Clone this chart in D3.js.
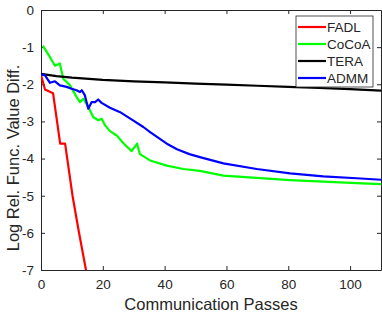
<!DOCTYPE html>
<html>
<head>
<meta charset="utf-8">
<script src="https://cdn.jsdelivr.net/npm/d3@7"></script>
<style>
  body { margin: 0; background: #fff; }
  text { font-family: "Liberation Sans", Arial, sans-serif; fill: #262626; }
</style>
</head>
<body>
<div id="chart"></div>
<script>
var xTicks = [0, 20, 40, 60, 80, 100];
var yTicks = [-7, -6, -5, -4, -3, -2, -1, 0];

var fadlX = [0, 1.3, 3.9, 6.2, 7.8, 10.2, 12.2, 15];
var fadlY = [-1.75, -2.14, -2.24, -3.6, -3.6, -5.0, -5.95, -7.2];

var cocoaX = [0.6, 2.9, 4.5, 6.1, 7.2, 9.4, 11.5, 12.6, 13.7, 15.3, 16.9, 18.5, 19.6, 20.7, 22.3, 24.5, 26.6, 29.3, 31.1, 32, 35.3, 40.7, 46, 51.4, 59, 69.8, 80.6, 91.3, 102.1, 110];
var cocoaY = [-0.96, -1.27, -1.5, -1.44, -1.85, -2.03, -2.34, -2.48, -2.39, -2.61, -2.88, -2.97, -2.93, -3.1, -3.26, -3.38, -3.58, -3.8, -3.6, -3.88, -4.05, -4.19, -4.28, -4.33, -4.46, -4.52, -4.58, -4.62, -4.66, -4.69];

var teraX = [0, 5, 10, 20, 30, 40, 50, 60, 70, 80, 90, 100, 110];
var teraY = [-1.72, -1.78, -1.82, -1.88, -1.92, -1.95, -1.98, -2.01, -2.04, -2.07, -2.1, -2.13, -2.17];

var admmX = [0, 1.3, 2.9, 4.5, 6.1, 8.3, 9.9, 11.5, 12.6, 13.2, 14.2, 15.3, 16.4, 17.5, 18.5, 19.6, 22.3, 25.6, 29.4, 33.1, 35.3, 40.7, 44, 48, 51.4, 59, 69.8, 80.6, 91.3, 102.1, 110];
var admmY = [-1.73, -1.76, -1.96, -1.92, -2.03, -2.07, -2.12, -2.16, -2.21, -2.16, -2.3, -2.66, -2.48, -2.48, -2.41, -2.5, -2.63, -2.75, -2.95, -3.15, -3.29, -3.6, -3.75, -3.88, -3.96, -4.13, -4.28, -4.4, -4.48, -4.53, -4.57];

var seriesNames = ["FADL", "CoCoA", "TERA", "ADMM"];
var seriesColors = ["#ff0000", "#00ff00", "#000000", "#0000ff"];

var width = 382, height = 314;
var margin = {top: 10, right: 1, bottom: 44, left: 41};
var w = width - margin.left - margin.right,
    h = height - margin.top - margin.bottom;

var svg = d3.select("#chart").append("svg").attr("width", width).attr("height", height);
var g = svg.append("g").attr("transform", "translate(" + margin.left + "," + margin.top + ")");

var x = d3.scaleLinear().domain([0, 110]).range([0, w]);
var y = d3.scaleLinear().domain([-7, 0]).range([h, 0]);

svg.append("defs").append("clipPath").attr("id", "clip")
  .append("rect").attr("width", w).attr("height", h);

// axes (ticks inward, box on)
var ax = g.append("g").attr("transform", "translate(0," + h + ")")
  .call(d3.axisBottom(x).tickValues(xTicks).tickSizeInner(-4).tickSizeOuter(0).tickPadding(9));
var ay = g.append("g")
  .call(d3.axisLeft(y).tickValues(yTicks).tickSizeInner(-4).tickSizeOuter(0).tickPadding(7));
var axTop = g.append("g")
  .call(d3.axisTop(x).tickValues(xTicks).tickSizeInner(-4).tickSizeOuter(0).tickFormat(""));
var ayRight = g.append("g").attr("transform", "translate(" + w + ",0)")
  .call(d3.axisRight(y).tickValues(yTicks).tickSizeInner(-4).tickSizeOuter(0).tickFormat(""));

[ax, ay, axTop, ayRight].forEach(function(a){
  a.selectAll("path").attr("stroke", "#262626").attr("stroke-width", 1);
  a.selectAll("line").attr("stroke", "#262626");
  a.selectAll("text").attr("font-size", 13.5).attr("fill", "#262626")
    .attr("font-family", "Liberation Sans, Arial, sans-serif");
});
ay.selectAll("text").text(function(d){ return String(d); });

// lines
var line = d3.line().x(function(d){ return x(d[0]); }).y(function(d){ return y(d[1]); });
var plot = g.append("g").attr("clip-path", "url(#clip)");
var xs = [fadlX, cocoaX, teraX, admmX], ys = [fadlY, cocoaY, teraY, admmY];
xs.forEach(function(sx, i){
  plot.append("path")
    .datum(d3.zip(sx, ys[i]))
    .attr("fill", "none")
    .attr("stroke", seriesColors[i])
    .attr("stroke-width", 2.2)
    .attr("stroke-linejoin", "round")
    .attr("d", line);
});

// axis labels
svg.append("text")
  .attr("x", margin.left + w / 2).attr("y", 310)
  .attr("text-anchor", "middle").attr("font-size", 16.5)
  .text("Communication Passes");
svg.append("text")
  .attr("transform", "translate(19,158) rotate(-90)")
  .attr("text-anchor", "middle").attr("font-size", 16.5)
  .text("Log Rel. Func. Value Diff.");

// legend
var lg = svg.append("g").attr("transform", "translate(296,16)");
lg.append("rect").attr("width", 77).attr("height", 71)
  .attr("fill", "#fff").attr("stroke", "#262626").attr("stroke-width", 0.8);
seriesNames.forEach(function(n, i){
  var yy = 11 + i * 17;
  lg.append("line").attr("x1", 2).attr("x2", 30).attr("y1", yy).attr("y2", yy)
    .attr("stroke", seriesColors[i]).attr("stroke-width", 2.2);
  lg.append("text").attr("x", 31).attr("y", yy + 4.5).attr("font-size", 13.5).text(n);
});
</script>
</body>
</html>
